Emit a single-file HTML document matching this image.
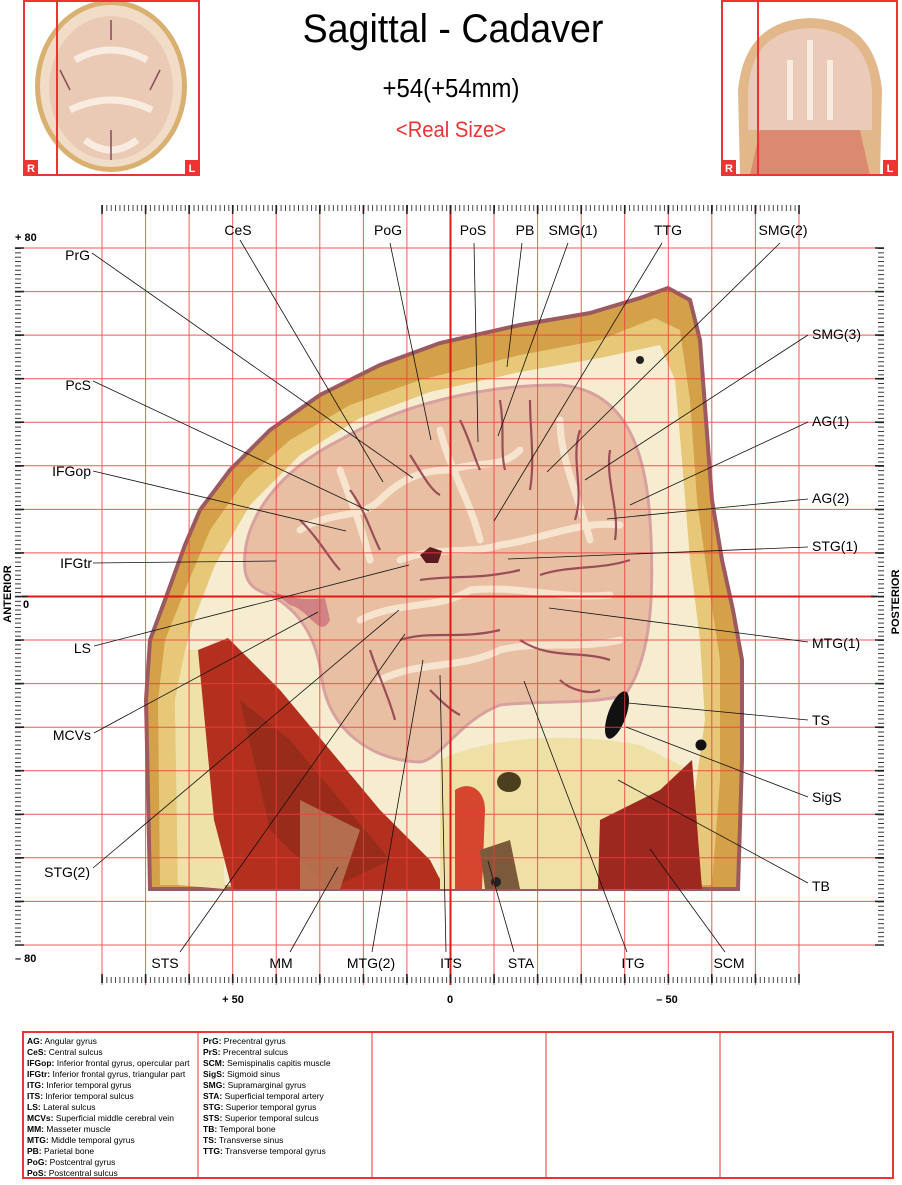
<!DOCTYPE html>
<html><head><meta charset="utf-8"><style>
html,body{margin:0;padding:0;background:#fff;}
svg{display:block;font-family:"Liberation Sans",Arial,sans-serif;}
</style></head><body>
<svg width="902" height="1185" viewBox="0 0 902 1185" xmlns="http://www.w3.org/2000/svg">
<defs>
<pattern id="tx" x="102" y="0" width="4.356" height="20" patternUnits="userSpaceOnUse"><line x1="0.5" y1="0" x2="0.5" y2="20" stroke="#333" stroke-width="0.9"/></pattern>
<pattern id="ty" x="0" y="248" width="20" height="4.356" patternUnits="userSpaceOnUse"><line x1="0" y1="0.5" x2="20" y2="0.5" stroke="#333" stroke-width="0.9"/></pattern>
</defs>

<!-- header thumbnails -->
<g>
<ellipse cx="111" cy="86" rx="76" ry="86" fill="#d9b070"/>
<ellipse cx="111" cy="86" rx="71" ry="81" fill="#f1dcc8"/>
<ellipse cx="111" cy="88" rx="62" ry="72" fill="#eacab5"/>
<path d="M75,60 Q111,40 147,60 M70,110 Q111,90 152,110 M85,140 Q111,160 137,140" stroke="#f8ebe0" stroke-width="7" fill="none"/>
<path d="M60,70 l10,20 M160,70 l-10,20 M111,20 v20 M111,130 v30" stroke="#8a4a5a" stroke-width="1.5" fill="none"/>
<rect x="24" y="1" width="175" height="174" fill="none" stroke="#e33" stroke-width="2"/>
<line x1="57" y1="1" x2="57" y2="175" stroke="#e33" stroke-width="2"/>
<rect x="24" y="160" width="14" height="15" fill="#e33"/><text x="31" y="172" fill="#fff" font-size="11" font-weight="bold" text-anchor="middle">R</text>
<rect x="185" y="160" width="14" height="15" fill="#e33"/><text x="192" y="172" fill="#fff" font-size="11" font-weight="bold" text-anchor="middle">L</text>
</g>
<g>
<path d="M740,175 L738,90 Q745,20 810,18 Q875,20 882,90 L880,175 Z" fill="#e2b88a"/>
<path d="M748,130 L748,90 Q752,30 810,28 Q868,30 872,90 L872,130 Z" fill="#eacab8"/>
<path d="M760,130 L860,130 L870,175 L750,175 Z" fill="#d98a70"/>
<path d="M790,60 v60 M830,60 v60 M810,40 v80" stroke="#f8ebe0" stroke-width="6" fill="none"/>
<rect x="722" y="1" width="175" height="174" fill="none" stroke="#e33" stroke-width="2"/>
<line x1="758" y1="1" x2="758" y2="175" stroke="#e33" stroke-width="2"/>
<rect x="722" y="160" width="14" height="15" fill="#e33"/><text x="729" y="172" fill="#fff" font-size="11" font-weight="bold" text-anchor="middle">R</text>
<rect x="883" y="160" width="14" height="15" fill="#e33"/><text x="890" y="172" fill="#fff" font-size="11" font-weight="bold" text-anchor="middle">L</text>
</g>
<text x="453" y="42" font-size="40" text-anchor="middle" transform="translate(453 0) scale(0.94 1) translate(-453 0)">Sagittal - Cadaver</text>
<text x="451" y="97" font-size="26" text-anchor="middle" transform="translate(451 0) scale(0.92 1) translate(-451 0)">+54(+54mm)</text>
<text x="451" y="137" font-size="22" fill="#e33" text-anchor="middle" transform="translate(451 0) scale(0.92 1) translate(-451 0)">&lt;Real Size&gt;</text>

<!-- anatomy image -->
<g>
<path d="M150,889 L146,700 L150,640 L165,600 L185,545 L200,510 L230,470 L270,430 L320,395 L380,365 L440,343 L520,325 L590,313 L640,298 L668,288 L690,300 L700,340 L706,420 L712,500 L722,560 L733,610 L742,660 L742,760 L738,889 Z" fill="#d4a048" stroke="#9a5a60" stroke-width="4"/>
<path d="M160,885 L158,700 L165,640 L185,590 L210,530 L245,480 L290,440 L350,405 L420,380 L520,355 L600,340 L655,318 L680,330 L690,400 L697,500 L708,580 L720,660 L720,780 L712,885 Z" fill="#e6c878"/>
<path d="M178,885 L175,700 L190,630 L215,565 L250,505 L300,455 L360,418 L430,392 L520,372 L600,358 L660,345 L675,380 L682,460 L690,560 L700,640 L705,720 L695,790 L660,830 L560,860 L420,880 L300,885 Z" fill="#f6eccf"/>
<path d="M178,885 L175,700 L185,650 L200,650 L215,700 L225,889 Z" fill="#efe2a8"/>
<!-- brain -->
<path d="M245,570 C240,520 280,470 340,440 C400,405 480,385 560,385 C620,390 645,440 650,520 C655,600 650,660 625,695 C590,705 540,700 500,705 C460,720 440,760 420,762 C370,760 330,730 322,680 C318,640 300,610 270,595 C255,590 247,585 245,570 Z" fill="#e8bfa2" stroke="#d9a0a0" stroke-width="3"/>
<path d="M270,590 C290,600 310,600 325,598 L330,620 C320,640 310,610 290,605 Z" fill="#c05a70" opacity="0.6"/>
<g stroke="#f7e4cf" stroke-width="7" fill="none" stroke-linecap="round">
<path d="M300,530 C330,510 360,520 380,500 C400,480 420,470 450,470 C480,460 500,470 520,450"/>
<path d="M400,560 C440,545 470,555 500,545 C540,540 580,520 620,525"/>
<path d="M360,620 C400,600 440,610 470,590 C520,585 560,600 610,595"/>
<path d="M380,680 C420,660 460,670 500,650 C540,640 580,650 620,640"/>
<path d="M440,430 C450,470 470,500 480,540 M560,420 C560,460 580,500 590,540 M340,470 C350,500 360,520 370,560"/>
</g>
<g stroke="#8c3a4a" stroke-width="2.2" fill="none" opacity="0.85">
<path d="M300,520 C320,540 330,560 340,570 M350,490 C365,510 370,530 380,550 M410,455 C420,470 430,490 440,495"/>
<path d="M460,420 C470,440 475,460 480,470 M500,400 C505,430 500,450 505,470 M530,400 C530,430 535,460 530,490"/>
<path d="M580,430 C570,460 585,490 575,520 M610,450 C605,480 620,510 615,540 M630,560 C600,570 570,565 540,575"/>
<path d="M420,580 C450,575 480,580 520,570 M400,640 C430,630 460,640 500,630 M520,640 C550,660 580,650 610,660"/>
<path d="M430,690 C440,700 450,710 460,715 M370,650 C380,680 390,700 395,720 M560,680 C570,690 590,695 600,690"/>
</g>
<path d="M420,555 l10,-8 l12,4 l-4,12 l-12,0 Z" fill="#5a1a20"/>
<!-- muscles -->
<path d="M198,650 L228,638 L280,690 L330,750 L380,810 L430,860 L445,889 L232,889 L214,820 Z" fill="#b3301f"/>
<path d="M240,700 L290,740 L340,800 L390,860 L330,889 L270,830 Z" fill="#8f2a1a" opacity="0.7"/>
<path d="M300,800 L360,830 L340,889 L300,889 Z" fill="#b8805a" opacity="0.8"/>
<path d="M440,760 C480,740 560,730 640,745 L690,770 L700,889 L440,889 Z" fill="#efe1a6"/>
<path d="M455,790 C470,780 485,790 485,810 L482,889 L455,889 Z" fill="#d6452e"/>
<path d="M600,820 L660,790 L692,760 L702,889 L598,889 Z" fill="#9c2820"/>
<path d="M480,850 L510,840 L520,889 L485,889 Z" fill="#7a5a3a"/>
<ellipse cx="617" cy="715" rx="9" ry="25" transform="rotate(20 617 715)" fill="#111"/>
<circle cx="701" cy="745" r="5.5" fill="#111"/>
<ellipse cx="509" cy="782" rx="12" ry="10" fill="#4a4020"/>
<circle cx="640" cy="360" r="4" fill="#222"/>
<circle cx="496" cy="882" r="5" fill="#222"/>
</g>

<!-- grid -->
<g stroke="#f03c3c" stroke-width="1" opacity="0.85">
<line x1="102" y1="205" x2="102" y2="985"/><line x1="145.6" y1="205" x2="145.6" y2="985"/><line x1="189.1" y1="205" x2="189.1" y2="985"/><line x1="232.7" y1="205" x2="232.7" y2="985"/><line x1="276.2" y1="205" x2="276.2" y2="985"/><line x1="319.8" y1="205" x2="319.8" y2="985"/><line x1="363.4" y1="205" x2="363.4" y2="985"/><line x1="406.9" y1="205" x2="406.9" y2="985"/><line x1="494" y1="205" x2="494" y2="985"/><line x1="537.6" y1="205" x2="537.6" y2="985"/><line x1="581.2" y1="205" x2="581.2" y2="985"/><line x1="624.7" y1="205" x2="624.7" y2="985"/><line x1="668.3" y1="205" x2="668.3" y2="985"/><line x1="711.8" y1="205" x2="711.8" y2="985"/><line x1="755.4" y1="205" x2="755.4" y2="985"/><line x1="799" y1="205" x2="799" y2="985"/>
<line x1="22" y1="248" x2="877" y2="248"/><line x1="22" y1="291.6" x2="877" y2="291.6"/><line x1="22" y1="335.1" x2="877" y2="335.1"/><line x1="22" y1="378.7" x2="877" y2="378.7"/><line x1="22" y1="422.2" x2="877" y2="422.2"/><line x1="22" y1="465.8" x2="877" y2="465.8"/><line x1="22" y1="509.4" x2="877" y2="509.4"/><line x1="22" y1="552.9" x2="877" y2="552.9"/><line x1="22" y1="640" x2="877" y2="640"/><line x1="22" y1="683.6" x2="877" y2="683.6"/><line x1="22" y1="727.2" x2="877" y2="727.2"/><line x1="22" y1="770.7" x2="877" y2="770.7"/><line x1="22" y1="814.3" x2="877" y2="814.3"/><line x1="22" y1="857.8" x2="877" y2="857.8"/><line x1="22" y1="901.4" x2="877" y2="901.4"/><line x1="22" y1="945" x2="877" y2="945"/>
</g>
<line x1="450.5" y1="205" x2="450.5" y2="985" stroke="#e01818" stroke-width="2"/>
<line x1="22" y1="596.5" x2="877" y2="596.5" stroke="#e01818" stroke-width="2"/>

<!-- rulers -->
<rect x="102" y="205" width="697.5" height="6" fill="url(#tx)"/>
<rect x="102" y="977" width="697.5" height="6" fill="url(#tx)"/>
<rect x="15" y="248" width="6" height="697.5" fill="url(#ty)"/>
<rect x="878" y="248" width="6" height="697.5" fill="url(#ty)"/>
<g stroke="#222" stroke-width="1.6">
<path d="M102,205v9M145.6,205v9M189.1,205v9M232.7,205v9M276.2,205v9M319.8,205v9M363.4,205v9M406.9,205v9M450.5,205v9M494,205v9M537.6,205v9M581.2,205v9M624.7,205v9M668.3,205v9M711.8,205v9M755.4,205v9M799,205v9"/>
<path d="M102,983v-9M145.6,983v-9M189.1,983v-9M232.7,983v-9M276.2,983v-9M319.8,983v-9M363.4,983v-9M406.9,983v-9M450.5,983v-9M494,983v-9M537.6,983v-9M581.2,983v-9M624.7,983v-9M668.3,983v-9M711.8,983v-9M755.4,983v-9M799,983v-9"/>
<path d="M15,248h9M15,291.6h9M15,335.1h9M15,378.7h9M15,422.2h9M15,465.8h9M15,509.4h9M15,552.9h9M15,596.5h13M15,640h9M15,683.6h9M15,727.2h9M15,770.7h9M15,814.3h9M15,857.8h9M15,901.4h9M15,945h9"/>
<path d="M884,248h-9M884,291.6h-9M884,335.1h-9M884,378.7h-9M884,422.2h-9M884,465.8h-9M884,509.4h-9M884,552.9h-9M884,596.5h-13M884,640h-9M884,683.6h-9M884,727.2h-9M884,770.7h-9M884,814.3h-9M884,857.8h-9M884,901.4h-9M884,945h-9"/>
</g>
<g font-size="11" font-weight="bold">
<text x="15" y="241">+ 80</text>
<text x="23" y="608">0</text>
<text x="15" y="962">– 80</text>
<text x="233" y="1003" text-anchor="middle">+ 50</text>
<text x="450" y="1003" text-anchor="middle">0</text>
<text x="667" y="1003" text-anchor="middle">– 50</text>
<text transform="translate(11 594) rotate(-90)" text-anchor="middle">ANTERIOR</text>
<text transform="translate(899 602) rotate(-90)" text-anchor="middle">POSTERIOR</text>
</g>

<!-- leader lines -->
<g stroke="#111" stroke-width="0.8">
<line x1="240" y1="240" x2="383" y2="482"/>
<line x1="92" y1="253" x2="413" y2="478"/>
<line x1="390" y1="243" x2="431" y2="440"/>
<line x1="474" y1="243" x2="478" y2="442"/>
<line x1="522" y1="243" x2="507" y2="367"/>
<line x1="568" y1="243" x2="498" y2="436"/>
<line x1="662" y1="243" x2="494" y2="521"/>
<line x1="780" y1="243" x2="547" y2="472"/>
<line x1="808" y1="335" x2="585" y2="480"/>
<line x1="808" y1="422" x2="630" y2="505"/>
<line x1="808" y1="499" x2="607" y2="519"/>
<line x1="808" y1="547" x2="508" y2="559"/>
<line x1="808" y1="642" x2="549" y2="608"/>
<line x1="808" y1="720" x2="628" y2="703"/>
<line x1="808" y1="797" x2="626" y2="727"/>
<line x1="808" y1="883" x2="618" y2="780"/>
<line x1="93" y1="381" x2="369" y2="511"/>
<line x1="93" y1="471" x2="346" y2="531"/>
<line x1="93" y1="563" x2="276" y2="561"/>
<line x1="94" y1="646" x2="409" y2="565"/>
<line x1="94" y1="733" x2="318" y2="612"/>
<line x1="93" y1="868" x2="399" y2="610"/>
<line x1="180" y1="952" x2="405" y2="634"/>
<line x1="290" y1="952" x2="338" y2="867"/>
<line x1="372" y1="952" x2="423" y2="660"/>
<line x1="446" y1="952" x2="440" y2="675"/>
<line x1="514" y1="952" x2="488" y2="861"/>
<line x1="627" y1="952" x2="524" y2="681"/>
<line x1="725" y1="952" x2="650" y2="849"/>
</g>
<g font-size="14">
<text x="238" y="235" text-anchor="middle">CeS</text>
<text x="388" y="235" text-anchor="middle">PoG</text>
<text x="473" y="235" text-anchor="middle">PoS</text>
<text x="525" y="235" text-anchor="middle">PB</text>
<text x="573" y="235" text-anchor="middle">SMG(1)</text>
<text x="668" y="235" text-anchor="middle">TTG</text>
<text x="783" y="235" text-anchor="middle">SMG(2)</text>
<text x="90" y="260" text-anchor="end">PrG</text>
<text x="91" y="390" text-anchor="end">PcS</text>
<text x="91" y="476" text-anchor="end">IFGop</text>
<text x="92" y="568" text-anchor="end">IFGtr</text>
<text x="91" y="653" text-anchor="end">LS</text>
<text x="91" y="740" text-anchor="end">MCVs</text>
<text x="90" y="877" text-anchor="end">STG(2)</text>
<text x="812" y="339">SMG(3)</text>
<text x="812" y="426">AG(1)</text>
<text x="812" y="503">AG(2)</text>
<text x="812" y="551">STG(1)</text>
<text x="812" y="648">MTG(1)</text>
<text x="812" y="725">TS</text>
<text x="812" y="802">SigS</text>
<text x="812" y="891">TB</text>
<text x="165" y="968" text-anchor="middle">STS</text>
<text x="281" y="968" text-anchor="middle">MM</text>
<text x="371" y="968" text-anchor="middle">MTG(2)</text>
<text x="451" y="968" text-anchor="middle">ITS</text>
<text x="521" y="968" text-anchor="middle">STA</text>
<text x="633" y="968" text-anchor="middle">ITG</text>
<text x="729" y="968" text-anchor="middle">SCM</text>
</g>

<!-- legend -->
<rect x="23" y="1032" width="870" height="146" fill="none" stroke="#e33" stroke-width="2"/>
<g stroke="#e33" stroke-width="1"><line x1="198" y1="1032" x2="198" y2="1178"/><line x1="372" y1="1032" x2="372" y2="1178"/><line x1="546" y1="1032" x2="546" y2="1178"/><line x1="720" y1="1032" x2="720" y2="1178"/></g>
<g font-size="8.5">
<text x="27" y="1044"><tspan font-weight="bold">AG:</tspan> Angular gyrus</text>
<text x="27" y="1055"><tspan font-weight="bold">CeS:</tspan> Central sulcus</text>
<text x="27" y="1066"><tspan font-weight="bold">IFGop:</tspan> Inferior frontal gyrus, opercular part</text>
<text x="27" y="1077"><tspan font-weight="bold">IFGtr:</tspan> Inferior frontal gyrus, triangular part</text>
<text x="27" y="1088"><tspan font-weight="bold">ITG:</tspan> Inferior temporal gyrus</text>
<text x="27" y="1099"><tspan font-weight="bold">ITS:</tspan> Inferior temporal sulcus</text>
<text x="27" y="1110"><tspan font-weight="bold">LS:</tspan> Lateral sulcus</text>
<text x="27" y="1121"><tspan font-weight="bold">MCVs:</tspan> Superficial middle cerebral vein</text>
<text x="27" y="1132"><tspan font-weight="bold">MM:</tspan> Masseter muscle</text>
<text x="27" y="1143"><tspan font-weight="bold">MTG:</tspan> Middle temporal gyrus</text>
<text x="27" y="1154"><tspan font-weight="bold">PB:</tspan> Parietal bone</text>
<text x="27" y="1165"><tspan font-weight="bold">PoG:</tspan> Postcentral gyrus</text>
<text x="27" y="1176"><tspan font-weight="bold">PoS:</tspan> Postcentral sulcus</text>
<text x="203" y="1044"><tspan font-weight="bold">PrG:</tspan> Precentral gyrus</text>
<text x="203" y="1055"><tspan font-weight="bold">PrS:</tspan> Precentral sulcus</text>
<text x="203" y="1066"><tspan font-weight="bold">SCM:</tspan> Semispinalis capitis muscle</text>
<text x="203" y="1077"><tspan font-weight="bold">SigS:</tspan> Sigmoid sinus</text>
<text x="203" y="1088"><tspan font-weight="bold">SMG:</tspan> Supramarginal gyrus</text>
<text x="203" y="1099"><tspan font-weight="bold">STA:</tspan> Superficial temporal artery</text>
<text x="203" y="1110"><tspan font-weight="bold">STG:</tspan>  Superior temporal gyrus</text>
<text x="203" y="1121"><tspan font-weight="bold">STS:</tspan> Superior temporal sulcus</text>
<text x="203" y="1132"><tspan font-weight="bold">TB:</tspan> Temporal bone</text>
<text x="203" y="1143"><tspan font-weight="bold">TS:</tspan> Transverse sinus</text>
<text x="203" y="1154"><tspan font-weight="bold">TTG:</tspan> Transverse temporal gyrus</text>
</g>
</svg>
</body></html>
